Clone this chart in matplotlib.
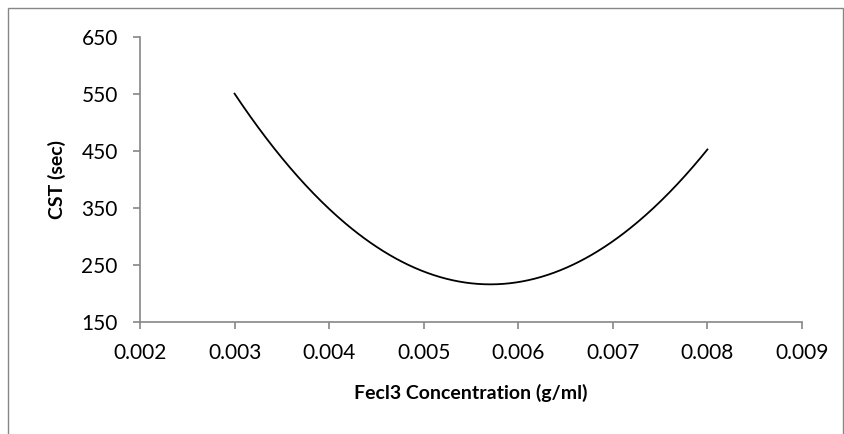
import numpy as np
import matplotlib.pyplot as plt
from matplotlib.patches import Rectangle

# data points
conc = np.array([0.003, 0.004, 0.005, 0.006, 0.007, 0.008])
cst = np.array([550, 350, 238, 218, 294, 452])

# smooth curve through the points (cubic fit, like the chart's smoothed line)
coef = np.polyfit(conc, cst, 3)
xs = np.linspace(conc.min(), conc.max(), 300)
ys = np.polyval(coef, xs)

plt.rcParams['font.family'] = ['Lato', 'DejaVu Sans']

fig = plt.figure(figsize=(8.45, 4.34), dpi=100)
ax = fig.add_axes([140 / 845, 1 - 322 / 434, 662 / 845, 285 / 434])

ax.plot(xs, ys, color='black', lw=1.3)

ax.set_xlim(0.002, 0.009)
ax.set_ylim(150, 650)
ticks = np.arange(0.002, 0.0091, 0.001)
ax.set_xticks(ticks)
ax.set_xticklabels([f'{v:.3f}' for v in ticks])
ax.set_yticks(range(150, 651, 100))

for s in ['top', 'right']:
    ax.spines[s].set_visible(False)
for s in ['left', 'bottom']:
    ax.spines[s].set_color('#868686')
    ax.spines[s].set_linewidth(1.2)
ax.tick_params(colors='#868686', labelcolor='black', labelsize=15, length=5, width=1.2)
ax.tick_params(axis='x', pad=10)
ax.tick_params(axis='y', pad=11)

ax.set_xlabel('Fecl3 Concentration (g/ml)', fontsize=14, fontweight='bold', labelpad=15)
ax.set_ylabel('CST (sec)', fontsize=14, fontweight='bold', labelpad=11)

# chart border
fig.patches.append(Rectangle((8 / 845, -0.1), 835 / 845, 1.1 - 8 / 434, transform=fig.transFigure,
                             fill=False, edgecolor='#868686', lw=1))

fig.savefig('out.png', dpi=100)
